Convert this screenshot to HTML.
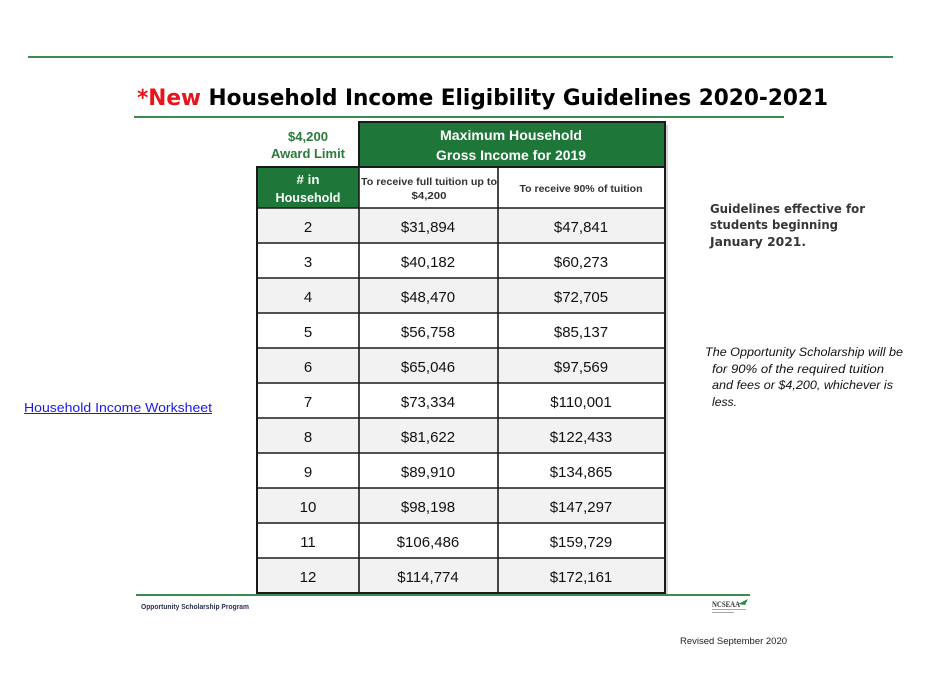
<!DOCTYPE html>
<html><head><meta charset="utf-8"><style>
html,body{margin:0;padding:0;background:#fff;}
svg{display:block;}
</style></head><body>
<svg width="928" height="687" viewBox="0 0 928 687" xmlns="http://www.w3.org/2000/svg">
<rect width="928" height="687" fill="#fff"/>
<!-- top line -->
<rect x="28" y="56" width="865" height="2" fill="#3f8a4e"/>
<!-- title -->
<text x="137" y="105" font-family="DejaVu Sans, sans-serif" font-weight="bold" font-size="22" textLength="691" lengthAdjust="spacingAndGlyphs"><tspan fill="#e8131b">*New </tspan><tspan fill="#000">Household Income Eligibility Guidelines 2020-2021</tspan></text>
<rect x="134" y="116" width="650" height="2" fill="#3f8a4e"/>

<!-- table shadow -->
<rect x="260" y="170" width="408" height="426" fill="#d4d4d4"/>
<rect x="362" y="125" width="306" height="46" fill="#d4d4d4"/>

<!-- header green -->
<rect x="359" y="122" width="306" height="45" fill="#1e7738" stroke="#222" stroke-width="2"/>
<text x="511" y="140" text-anchor="middle" font-family="Liberation Sans, sans-serif" font-weight="bold" font-size="14" fill="#fff" textLength="142" lengthAdjust="spacingAndGlyphs">Maximum Household</text>
<text x="511" y="160" text-anchor="middle" font-family="Liberation Sans, sans-serif" font-weight="bold" font-size="14" fill="#fff" textLength="150" lengthAdjust="spacingAndGlyphs">Gross Income for 2019</text>

<!-- award limit -->
<text x="308" y="141" text-anchor="middle" font-family="Liberation Sans, sans-serif" font-weight="bold" font-size="13" fill="#2a7a3a" textLength="40" lengthAdjust="spacingAndGlyphs">$4,200</text>
<text x="308" y="158" text-anchor="middle" font-family="Liberation Sans, sans-serif" font-weight="bold" font-size="13" fill="#2a7a3a" textLength="74" lengthAdjust="spacingAndGlyphs">Award Limit</text>

<!-- table base white -->
<rect x="257" y="167" width="408" height="426" fill="#fff"/>

<!-- row header -->
<rect x="257" y="167" width="102" height="41" fill="#1e7738"/>
<text x="308" y="184" text-anchor="middle" font-family="Liberation Sans, sans-serif" font-weight="bold" font-size="13" fill="#fff" textLength="23" lengthAdjust="spacingAndGlyphs"># in</text>
<text x="308" y="202" text-anchor="middle" font-family="Liberation Sans, sans-serif" font-weight="bold" font-size="13" fill="#fff" textLength="65" lengthAdjust="spacingAndGlyphs">Household</text>
<text x="429" y="185" text-anchor="middle" font-family="Liberation Sans, sans-serif" font-weight="bold" font-size="10" fill="#333" textLength="136" lengthAdjust="spacingAndGlyphs">To receive full tuition up to</text>
<text x="429" y="199" text-anchor="middle" font-family="Liberation Sans, sans-serif" font-weight="bold" font-size="10" fill="#333" textLength="35" lengthAdjust="spacingAndGlyphs">$4,200</text>
<text x="581" y="192" text-anchor="middle" font-family="Liberation Sans, sans-serif" font-weight="bold" font-size="10" fill="#333" textLength="123" lengthAdjust="spacingAndGlyphs">To receive 90% of tuition</text>

<!-- data rows -->
<g font-family="Liberation Sans, sans-serif" font-size="15" fill="#111" text-anchor="middle">
<rect x="257" y="208" width="408" height="35" fill="#f2f2f2"/>
<rect x="257" y="278" width="408" height="35" fill="#f2f2f2"/>
<rect x="257" y="348" width="408" height="35" fill="#f2f2f2"/>
<rect x="257" y="418" width="408" height="35" fill="#f2f2f2"/>
<rect x="257" y="488" width="408" height="35" fill="#f2f2f2"/>
<rect x="257" y="558" width="408" height="35" fill="#f2f2f2"/>

<text x="308" y="232">2</text><text x="428" y="232">$31,894</text><text x="581" y="232">$47,841</text>
<text x="308" y="267">3</text><text x="428" y="267">$40,182</text><text x="581" y="267">$60,273</text>
<text x="308" y="302">4</text><text x="428" y="302">$48,470</text><text x="581" y="302">$72,705</text>
<text x="308" y="337">5</text><text x="428" y="337">$56,758</text><text x="581" y="337">$85,137</text>
<text x="308" y="372">6</text><text x="428" y="372">$65,046</text><text x="581" y="372">$97,569</text>
<text x="308" y="407">7</text><text x="428" y="407">$73,334</text><text x="581" y="407">$110,001</text>
<text x="308" y="442">8</text><text x="428" y="442">$81,622</text><text x="581" y="442">$122,433</text>
<text x="308" y="477">9</text><text x="428" y="477">$89,910</text><text x="581" y="477">$134,865</text>
<text x="308" y="512">10</text><text x="428" y="512">$98,198</text><text x="581" y="512">$147,297</text>
<text x="308" y="547">11</text><text x="428" y="547">$106,486</text><text x="581" y="547">$159,729</text>
<text x="308" y="582">12</text><text x="428" y="582">$114,774</text><text x="581" y="582">$172,161</text>
</g>

<!-- grid lines -->
<g stroke="#1a1a1a" stroke-width="1.6">
<line x1="257" y1="208" x2="665" y2="208"/>
<line x1="257" y1="243" x2="665" y2="243"/>
<line x1="257" y1="278" x2="665" y2="278"/>
<line x1="257" y1="313" x2="665" y2="313"/>
<line x1="257" y1="348" x2="665" y2="348"/>
<line x1="257" y1="383" x2="665" y2="383"/>
<line x1="257" y1="418" x2="665" y2="418"/>
<line x1="257" y1="453" x2="665" y2="453"/>
<line x1="257" y1="488" x2="665" y2="488"/>
<line x1="257" y1="523" x2="665" y2="523"/>
<line x1="257" y1="558" x2="665" y2="558"/>
<line x1="359" y1="167" x2="359" y2="593"/>
<line x1="498" y1="167" x2="498" y2="593"/>
</g>
<rect x="257" y="167" width="408" height="426" fill="none" stroke="#1a1a1a" stroke-width="2"/>
<rect x="359" y="122" width="306" height="45" fill="none" stroke="#1a1a1a" stroke-width="2"/>

<!-- right text -->
<g font-family="DejaVu Sans, sans-serif" font-weight="bold" font-size="12.5" fill="#363636">
<text x="710" y="213" textLength="155" lengthAdjust="spacingAndGlyphs">Guidelines effective for</text>
<text x="710" y="229" textLength="128" lengthAdjust="spacingAndGlyphs">students beginning</text>
<text x="710" y="246" textLength="96" lengthAdjust="spacingAndGlyphs">January 2021.</text>
</g>
<g font-family="Liberation Sans, sans-serif" font-style="italic" font-size="12" fill="#111">
<text x="705" y="356" textLength="198" lengthAdjust="spacingAndGlyphs">The Opportunity Scholarship will be</text>
<text x="712" y="373" textLength="172" lengthAdjust="spacingAndGlyphs">for 90% of the required tuition</text>
<text x="712" y="389" textLength="181" lengthAdjust="spacingAndGlyphs">and fees or $4,200, whichever is</text>
<text x="712" y="406" textLength="25" lengthAdjust="spacingAndGlyphs">less.</text>
</g>

<!-- link -->
<text x="24" y="412" font-family="Liberation Sans, sans-serif" font-size="13" fill="#1a1aee" textLength="188" lengthAdjust="spacingAndGlyphs">Household Income Worksheet</text>
<rect x="24" y="413" width="188" height="1" fill="#1a1aee"/>

<!-- bottom line -->
<rect x="136" y="594" width="614" height="2" fill="#3f8a4e"/>
<text x="141" y="609" font-family="Liberation Sans, sans-serif" font-size="7" font-weight="bold" fill="#2a2f55" textLength="108" lengthAdjust="spacingAndGlyphs">Opportunity Scholarship Program</text>

<!-- logo -->
<text x="712" y="607" font-family="Liberation Serif, serif" font-weight="bold" font-size="8" fill="#333" textLength="28" lengthAdjust="spacingAndGlyphs">NCSEAA</text>
<path d="M738 604 L748 599 L745 605 Z" fill="#2f8a45"/>
<rect x="712" y="609" width="34" height="1" fill="#aaa"/>
<rect x="712" y="612" width="22" height="1" fill="#aaa"/>

<text x="680" y="644" font-family="Liberation Sans, sans-serif" font-size="9.5" fill="#222" textLength="107" lengthAdjust="spacingAndGlyphs">Revised September 2020</text>
</svg>
</body></html>
